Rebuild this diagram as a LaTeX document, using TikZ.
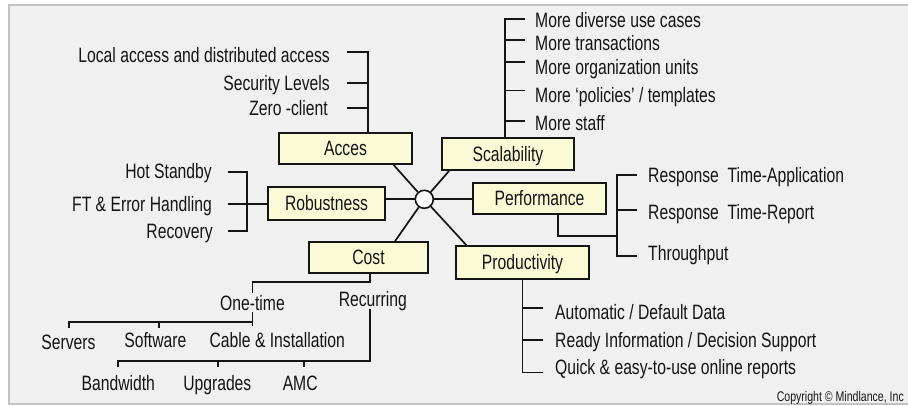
\documentclass[tikz,border=0pt]{standalone}
\usepackage{fontspec}
\setmainfont{Liberation Sans}[FakeStretch=0.755]
\usetikzlibrary{calc}
\definecolor{bgc}{HTML}{F0F0F0}
\definecolor{framec}{HTML}{C2C2C2}
\definecolor{boxc}{RGB}{250,250,214}
\definecolor{inkc}{HTML}{141414}
\begin{document}
\begin{tikzpicture}[x=1pt,y=-1pt,
  lbl/.style={inner sep=0pt, text height=14.8pt, text depth=0pt, font=\fontsize{20.8}{24}\selectfont, text=inkc},
  cat/.style={lbl, draw=inkc, fill=boxc, line width=1.9pt, minimum width=#1, minimum height=31pt},
  ln/.style={draw=inkc, line width=1.9pt},
  small/.style={inner sep=0pt, font=\fontsize{14}{16}\selectfont, text=inkc},
]
\useasboundingbox (0,0) rectangle (908,405);
\fill[white] (0,0) rectangle (908,405);
\fill[bgc] (9,5) rectangle (915,404);
\draw[framec, line width=1.2pt] (915,5) -- (9,5) -- (9,404) -- (915,404);

% category boxes
\node[cat=133pt] (acces) at (345.5,148.5) {Acces};
\node[cat=132pt, minimum height=32pt] (scal) at (508,154) {Scalability};
\node[cat=117pt, minimum height=33pt] (robust) at (326.5,203.5) {Robustness};
\node[cat=133pt] (perf) at (539.5,198.5) {Performance};
\node[cat=119pt] (cost) at (368.5,257.5) {Cost};
\node[cat=133pt, minimum height=33pt] (prod) at (522.5,262.5) {Productivity};
\node[circle, draw=inkc, fill=white, line width=1.6pt, minimum size=18pt, inner sep=0pt] (hub) at (424.3,199.3) {};

% spokes
\draw[ln, line width=1.7pt] (hub) -- ($(acces.south west)!0.857!(acces.south east)$);
\draw[ln, line width=1.7pt] (hub) -- ($(scal.south west)!0.06!(scal.south east)$);
\draw[ln, line width=1.7pt] (hub) -- (hub -| robust.east);
\draw[ln, line width=1.7pt] (hub) -- (hub -| perf.west);
\draw[ln, line width=1.7pt] (hub) -- ($(cost.north west)!0.72!(cost.north east)$);
\draw[ln, line width=1.7pt] (hub) -- ($(prod.north west)!0.083!(prod.north east)$);

% Acces items
\node[lbl, anchor=base east] (a1) at (330,62.5) {Local access and distributed access};
\node[lbl, anchor=base east] (a2) at (330,90.5) {Security Levels};
\node[lbl, anchor=base east] (a3) at (328,115.5) {Zero -client};
\coordinate (av) at ($(acces.north west)!0.67!(acces.north east)$);
\draw[ln] (av) |- ($(a1.east)+(16.7,-3)$);
\draw[ln] ($(a2.east)+(16.7,0)$) -- (a2.east -| av);
\draw[ln] ($(a3.east)+(18.7,0)$) -- (a3.east -| av);

% Robustness items
\node[lbl, anchor=base east] (r1) at (212,178) {Hot Standby};
\node[lbl, anchor=base east] (r2) at (212,211) {FT \& Error Handling};
\node[lbl, anchor=base east] (r3) at (213,238) {Recovery};
\draw[ln] ($(r1.east)+(15.7,1.5)$) -| ($(r3.east)+(34.3,0)$) -- ($(r3.east)+(14.7,0)$);
\draw[ln] ($(r2.east)+(15.7,0)$) -- (r2.east -| robust.west);

% Scalability items
\node[lbl, anchor=base west] (s1) at (535,27) {More diverse use cases};
\node[lbl, anchor=base west] (s2) at (535,50) {More transactions};
\node[lbl, anchor=base west] (s3) at (535,74) {More organization units};
\node[lbl, anchor=base west] (s4) at (535,102.5) {More ‘policies’ / templates};
\node[lbl, anchor=base west] (s5) at (535,130.5) {More staff};
\coordinate (sv) at ($(scal.north west)!0.48!(scal.north east)$);
\draw[ln] (sv) |- ($(s1.west)+(-10,-1)$);
\draw[ln] ($(s2.west)+(-10,-3)$) -- ++(-19.6,0);
\draw[ln] ($(s3.west)+(-10,-4.3)$) -- ++(-19.6,0);
\draw[ln] ($(s4.west)+(-10,-4.6)$) -- ++(-19.6,0);
\draw[ln] ($(s5.west)+(-10,-2.3)$) -- ++(-19.6,0);

% Performance items
\node[lbl, anchor=base west] (p1) at (648,182.7) {Response\ \ Time-Application};
\node[lbl, anchor=base west] (p2) at (648,219) {Response\ \ Time-Report};
\node[lbl, anchor=base west] (p3) at (648,260) {Throughput};
\draw[ln] ($(p1.west)+(-11.3,0)$) -- ++(-20,0) |- ($(p3.west)+(-11.3,3.2)$);
\draw[ln] ($(p2.west)+(-11.3,-1.8)$) -- ++(-20,0);
\draw[ln] ($(perf.south west)!0.637!(perf.south east)$) |- ++(59,21);

% Productivity items
\node[lbl, anchor=base west] (q1) at (555,319.3) {Automatic / Default Data};
\node[lbl, anchor=base west] (q2) at (555,347.3) {Ready Information / Decision Support};
\node[lbl, anchor=base west] (q3) at (555,374) {Quick \& easy-to-use online reports};
\draw[ln] (prod.south) |- ($(q3.west)+(-11.7,5.9)$);
\draw[ln] ($(q1.west)+(-11.7,-3.8)$) -- ++(-20.6,0);
\draw[ln] ($(q2.west)+(-11.7,0)$) -- ++(-20.6,0);

% Cost items
\node[lbl, anchor=base] (onetime) at (252.5,310) {One-time};
\node[lbl, anchor=base] (recurring) at (372.8,306.7) {Recurring};
\node[lbl, anchor=base] (servers) at (68.5,349.3) {Servers};
\node[lbl, anchor=base] (software) at (155.3,347.3) {Software};
\node[lbl, anchor=base] (cable) at (277.3,347.3) {Cable \& Installation};
\node[lbl, anchor=base] (bandwidth) at (118.3,390.7) {Bandwidth};
\node[lbl, anchor=base] (upgrades) at (217.3,390.7) {Upgrades};
\node[lbl, anchor=base] (amc) at (300.2,390.7) {AMC};
\draw[ln] ($(cost.south)+(1.5,0)$) -- ++(0,8) -| ($(onetime.north)+(0,-2)$);
\draw[ln] ($(onetime.south)+(0,1.7)$) -- ++(0,14.3);
\draw[ln] ($(servers.north)+(0.5,-6)$) |- ($(onetime.south)+(0,11.7)$);
\draw[ln] ($(software.north)+(3.4,-4.4)$) -- ++(0,-7.3);
\draw[ln] ($(recurring.south)+(-2.8,2.3)$) -- ++(0,51.7) -| ($(bandwidth.north)+(0,-8.9)$);
\draw[ln] ($(upgrades.north)+(0.4,-8.9)$) -- ++(0,-7.3);
\draw[ln] ($(amc.north)+(4.1,-8.9)$) -- ++(0,-7.3);

\node[small, anchor=base east] (copy) at (904,401) {Copyright © Mindlance, Inc};
\end{tikzpicture}
\end{document}
